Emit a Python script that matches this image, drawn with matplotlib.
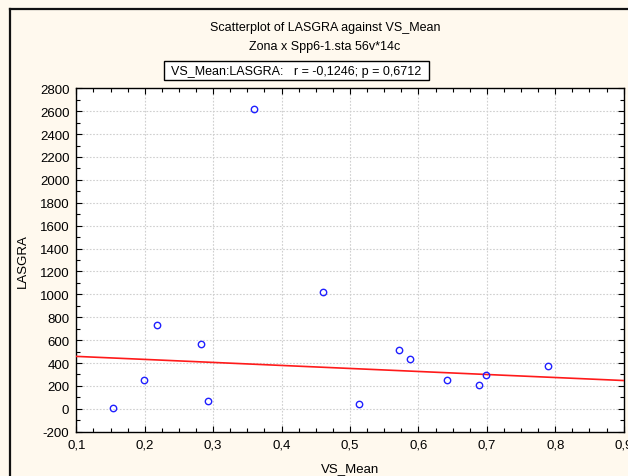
import matplotlib
matplotlib.use("Agg")
import matplotlib.pyplot as plt
from matplotlib.ticker import MultipleLocator, FuncFormatter
from matplotlib.lines import Line2D
from matplotlib.patches import Rectangle

plt.rcParams['font.family'] = ['Liberation Sans', 'DejaVu Sans']

# Observations: VS_Mean vs LASGRA
vs_mean = [0.154, 0.199, 0.218, 0.282, 0.292, 0.360, 0.461, 0.513,
           0.572, 0.587, 0.642, 0.688, 0.699, 0.789]
lasgra = [5, 254, 730, 569, 68, 2616, 1023, 39,
          511, 432, 254, 208, 295, 377]

# Fitted regression line (value at each end of the x range)
fit_x = [0.1, 0.9]
fit_y = [458, 247]

title_lines = ["Scatterplot of LASGRA against VS_Mean", "Zona x Spp6-1.sta 56v*14c"]
stats_label = "VS_Mean:LASGRA:   r = -0,1246; p = 0,6712"
x_label = "VS_Mean"
y_label = "LASGRA"

W, H = 628, 477
bg = "#fff9ee"
fig = plt.figure(figsize=(W / 100, H / 100), dpi=100, facecolor=bg)

# outer frame (left and top edges visible)
fig.add_artist(Line2D([9.5 / W, 9.5 / W], [0, 1 - 9.5 / H], transform=fig.transFigure,
                      color="#111111", lw=1.6))
fig.add_artist(Line2D([9.5 / W, 1], [1 - 9.5 / H, 1 - 9.5 / H], transform=fig.transFigure,
                      color="#111111", lw=1.6))

left, right, bottom, top = 76.3, 623.7, 432.7, 89.3
ax = fig.add_axes([left / W, 1 - bottom / H, (right - left) / W, (bottom - top) / H])
ax.set_facecolor("white")

ax.set_xlim(0.1, 0.9)
ax.set_ylim(-200, 2800)
ax.xaxis.set_major_locator(MultipleLocator(0.1))
ax.xaxis.set_minor_locator(MultipleLocator(0.025))
ax.yaxis.set_major_locator(MultipleLocator(200))
ax.yaxis.set_minor_locator(MultipleLocator(100))
ax.xaxis.set_major_formatter(FuncFormatter(lambda v, p: f"{v:.1f}".replace(".", ",")))
ax.yaxis.set_major_formatter(FuncFormatter(lambda v, p: f"{int(round(v))}"))

ax.grid(True, which="major", color="#cfcfcf", linestyle=(0, (1.5, 1.5)), linewidth=0.8)
ax.set_axisbelow(True)
ax.tick_params(which="both", direction="in", top=True, right=True, colors="black",
               labelsize=9.5, width=0.8)
ax.tick_params(which="major", length=4, pad=5)
ax.tick_params(which="minor", length=3)
for s in ax.spines.values():
    s.set_color("black")
    s.set_linewidth(1.0)

ax.plot(fit_x, fit_y, color="#ff1a1a", lw=1.2, zorder=3)
ax.plot(vs_mean, lasgra, linestyle="none", marker="o", markersize=4.6,
        markerfacecolor="none", markeredgecolor="#2020ff", markeredgewidth=1.0, zorder=4)

ax.set_xlabel(x_label, fontsize=9.5, labelpad=8)
ax.set_ylabel(y_label, fontsize=9.5, labelpad=8)

fig.text(325 / W, 1 - 28 / H, title_lines[0], ha="center", va="center", fontsize=9)
fig.text(325 / W, 1 - 47 / H, title_lines[1], ha="center", va="center", fontsize=9)

fig.add_artist(Rectangle((164 / W, 1 - 81 / H), (429 - 164) / W, 19 / H,
                         transform=fig.transFigure, facecolor="white",
                         edgecolor="black", lw=1.0))
fig.text(296.5 / W, 1 - 71.5 / H, stats_label, ha="center", va="center", fontsize=9)

fig.savefig("out.png", dpi=100, facecolor=bg)
